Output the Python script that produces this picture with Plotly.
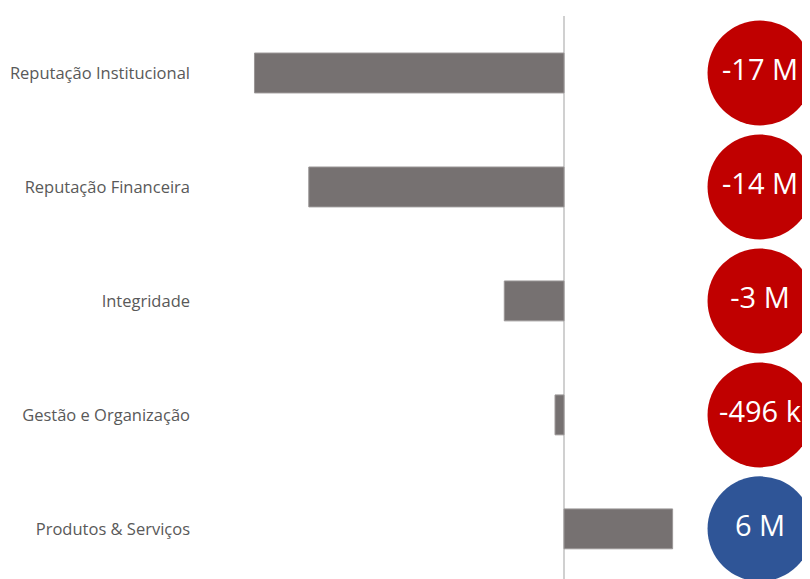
import plotly.graph_objects as go

categories = ["Reputação Institucional", "Reputação Financeira", "Integridade",
              "Gestão e Organização", "Produtos & Serviços"]
values_m = [-17.1, -14.1, -3.3, -0.496, 6.0]
badge_labels = ["-17 M", "-14 M", "-3 M", "-496 k", "6 M"]
badge_colors = ["#C00000", "#C00000", "#C00000", "#C00000", "#2F5597"]
badge_x = [10.83] * 5

fig = go.Figure()
fig.add_trace(go.Bar(
    y=categories, x=values_m, orientation="h", width=0.35,
    marker=dict(color="#767171", line=dict(color="#9a9696", width=1)),
    hoverinfo="skip",
))
fig.add_trace(go.Scatter(
    y=categories, x=badge_x, mode="markers+text",
    marker=dict(size=105, color=badge_colors, line=dict(width=0)),
    text=badge_labels, textposition="middle center",
    textfont=dict(family="Open Sans", size=29, color="white"),
    cliponaxis=False, hoverinfo="skip",
))

fig.update_layout(
    width=802, height=571,
    margin=dict(l=192, r=0, t=8, b=0),
    paper_bgcolor="white", plot_bgcolor="white",
    showlegend=False,
    xaxis=dict(range=[-20.11, 13.59], showgrid=False, zeroline=True,
               zerolinecolor="#d0d0d0", zerolinewidth=2, showticklabels=False,
               fixedrange=True),
    yaxis=dict(type="category", range=[4.44, -0.5], showgrid=False,
               ticklabelstandoff=9,
               tickfont=dict(family="Open Sans", size=16.5, color="#595959"),
               fixedrange=True),
)

fig.write_html("out.html")
